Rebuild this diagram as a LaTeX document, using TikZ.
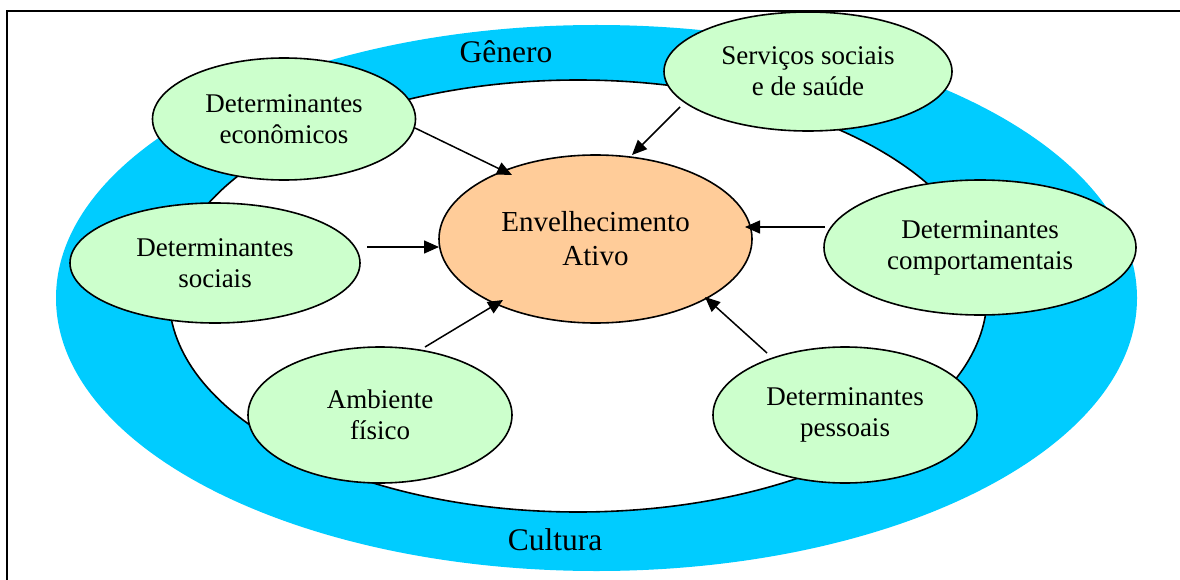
\documentclass[tikz,border=0pt]{standalone}
\usepackage{fontspec}
\setmainfont{Liberation Serif}
\usetikzlibrary{shapes.geometric,arrows.meta}
\definecolor{ringblue}{HTML}{00CCFF}
\definecolor{detgreen}{HTML}{CCFFCC}
\definecolor{actorange}{HTML}{FFCC99}
\begin{document}
\begin{tikzpicture}[x=1pt,y=-1pt,
  det/.style={ellipse,draw=black,line width=1.6pt,fill=detgreen,inner sep=0pt,align=center,
    font=\fontsize{27}{31}\selectfont},
  act/.style={ellipse,draw=black,line width=1.6pt,fill=actorange,inner sep=0pt,align=center,
    font=\fontsize{29}{34}\selectfont},
  arr/.style={line width=1.5pt,-{Triangle[length=15pt,width=13pt]}},
  ringlabel/.style={font=\fontsize{31.5}{36}\selectfont,anchor=base,inner sep=0pt}]
\useasboundingbox (0,0) rectangle (1180,580);
\fill[white] (0,0) rectangle (1180,580);
% frame
\draw[line width=2pt] (7,580) -- (7,11) -- (1180,11);
% rings
\fill[ringblue] (596.5,298) ellipse [x radius=540.5pt, y radius=273pt];
\draw[fill=white,line width=1.6pt] (578,296) ellipse [x radius=409pt, y radius=216pt];
\node[ringlabel] (genero) at (506,63) {Gênero};
\node[ringlabel] (cultura) at (555,550) {Cultura};
% nodes
\node[act,minimum width=313pt,minimum height=168pt] (ativo) at (595.5,239) {Envelhecimento\\Ativo};
\node[det,minimum width=263pt,minimum height=122pt] (econ) at (284,119) {Determinantes\\econômicos};
\node[det,minimum width=290pt,minimum height=120pt] (soc) at (215,263) {Determinantes\\sociais};
\node[det,minimum width=288pt,minimum height=119pt] (serv) at (808,71.5) {Serviços sociais\\e de saúde};
\node[det,minimum width=312pt,minimum height=135pt] (comp) at (980,247.5) {Determinantes\\comportamentais};
\node[det,minimum width=264pt,minimum height=136pt] (amb) at (380,415) {Ambiente\\físico};
\node[det,minimum width=264pt,minimum height=136pt] (pess) at (845,415) {Determinantes\\pessoais};
% arrow ends
\coordinate (econS) at (415,128);  \coordinate (econT) at (512,175);
\coordinate (socS) at (367,247);   \coordinate (socT) at (439,247);
\coordinate (servS) at (680,107);  \coordinate (servT) at (632,155);
\coordinate (compS) at (825,227);  \coordinate (compT) at (745,227);
\coordinate (ambS) at (425,347);   \coordinate (ambT) at (503,300);
\coordinate (pessS) at (767,353);  \coordinate (pessT) at (705,297);
\draw[arr] (econS) -- (econT);
\draw[arr] (socS) -- (socT);
\draw[arr] (servS) -- (servT);
\draw[arr] (compS) -- (compT);
\draw[arr] (ambS) -- (ambT);
\draw[arr] (pessS) -- (pessT);
\end{tikzpicture}
\end{document}
